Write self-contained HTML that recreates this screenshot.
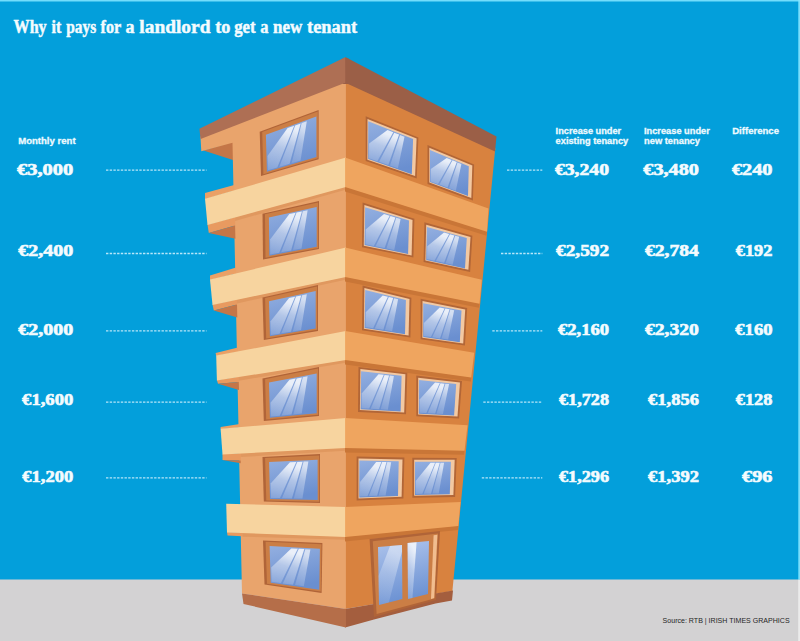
<!DOCTYPE html>
<html lang="en"><head><meta charset="utf-8"><title>Why it pays for a landlord to get a new tenant</title>
<style>
html,body{margin:0;padding:0;background:#039fdb;}
body{width:800px;height:641px;overflow:hidden;}
svg{display:block;}
.ti{font:bold 18.4px "Liberation Serif",serif;fill:#f4fbfe;stroke:#f4fbfe;stroke-width:.45px;}
.nm{font:bold 16.6px "Liberation Serif",serif;fill:#f4fbfe;stroke:#f4fbfe;stroke-width:.6px;}
.hd{font:bold 9.4px "Liberation Sans",sans-serif;fill:#eefaff;stroke:#eefaff;stroke-width:.3px;}
.src{font:7.5px "Liberation Sans",sans-serif;fill:#262626;}
.dl{stroke:#b8e6f9;stroke-width:1.3;stroke-dasharray:2.4 1.3;}
</style></head><body>
<svg width="800" height="641" viewBox="0 0 800 641">
<defs>
<linearGradient id="gl" x1="0" y1="0" x2="0.25" y2="1"><stop offset="0" stop-color="#93afe0"/><stop offset="1" stop-color="#6a8fd0"/></linearGradient>
<linearGradient id="gr" x1="0" y1="0" x2="0.2" y2="1"><stop offset="0" stop-color="#93afe0"/><stop offset="1" stop-color="#6a8fd0"/></linearGradient>
<filter id="bl" x="-5%" y="-5%" width="110%" height="110%"><feGaussianBlur stdDeviation="0.6"/></filter>
<linearGradient id="gd" x1="0" y1="0" x2="0.1" y2="1"><stop offset="0" stop-color="#a9c0ea"/><stop offset="1" stop-color="#6c92d3"/></linearGradient>
<linearGradient id="st" x1="0.3" y1="0" x2="0" y2="1"><stop offset="0" stop-color="#fff" stop-opacity=".82"/><stop offset=".4" stop-color="#fff" stop-opacity=".42"/><stop offset="1" stop-color="#fff" stop-opacity=".15"/></linearGradient>
</defs>
<rect x="0" y="0" width="800" height="641" fill="#039fdb"/>
<rect x="0" y="579.5" width="800" height="61.5" fill="#d3d2d3"/>
<polygon points="344.6,80.0 495.6,148.5 495.0,151.2 452.4,591.0 344.6,609.0" fill="#d8823f"/>
<polygon points="203.5,150.4 234.5,141.2 234.5,160.6" fill="#c47648"/>
<polygon points="200.6,138.7 200.4,136.6 345.9,80.0 345.9,609.0 242.0,593.5 232.5,142.8 201.3,151.3" fill="#e9a46c"/>
<polygon points="342.6,58.5 348.6,58.5 348.6,84.0 342.6,84.0" fill="#9b5f47"/>
<polygon points="199.4,128.7 345.6,56.9 345.9,82.5 200.6,138.9" fill="#ae6f54"/>
<polygon points="345.3,56.9 496.5,136.5 495.0,151.4 345.3,82.7" fill="#9b5f47"/>
<polygon points="205.0,193.0 234.2,185.0 234.2,190.7 205.0,199.2" fill="#eba065"/>
<polygon points="207.5,224.5 208.8,233.0 235.1,225.6 235.1,216.9" fill="#e89a60"/>
<polygon points="208.8,233.0 235.1,225.6 235.4,238.8" fill="#c47648"/>
<polygon points="235.1,216.9 345.6,186.5 345.6,189.8 235.1,221.0" fill="#e0985f"/>
<polygon points="345.0,186.5 487.0,231.2 486.6,235.8 345.0,191.5" fill="#c97637"/>
<polygon points="205.0,198.8 345.9,157.6 345.9,187.0 207.5,225.0" fill="#f7d49f"/>
<polygon points="345.1,157.6 488.5,208.5 487.0,231.8 345.1,187.0" fill="#efa55f"/>
<polygon points="210.0,275.6 236.1,267.5 236.1,273.8 210.0,279.9" fill="#eba065"/>
<polygon points="212.5,304.5 213.8,310.6 237.0,304.4 237.0,299.3" fill="#e89a60"/>
<polygon points="213.8,310.6 237.0,304.4 237.3,317.5" fill="#c47648"/>
<polygon points="237.0,299.3 345.6,276.5 345.6,279.8 237.0,303.4" fill="#e0985f"/>
<polygon points="345.0,276.5 479.5,303.2 479.1,307.8 345.0,281.5" fill="#c97637"/>
<polygon points="210.0,279.4 345.9,247.6 345.9,277.0 212.5,305.0" fill="#f7d49f"/>
<polygon points="345.1,247.6 481.8,279.8 479.5,303.8 345.1,277.0" fill="#efa55f"/>
<polygon points="215.6,353.0 238.0,347.5 238.0,352.0 216.2,356.1" fill="#eba065"/>
<polygon points="216.9,380.1 218.0,383.8 238.8,381.9 238.8,376.6" fill="#e89a60"/>
<polygon points="218.0,383.8 238.8,381.9 239.0,390.0" fill="#c47648"/>
<polygon points="238.8,376.6 345.6,359.5 345.6,362.8 238.8,380.7" fill="#e0985f"/>
<polygon points="345.0,359.5 471.2,377.0 470.9,381.5 345.0,364.5" fill="#c97637"/>
<polygon points="216.2,355.6 345.9,331.0 345.9,360.0 216.9,380.6" fill="#f7d49f"/>
<polygon points="345.1,331.0 474.2,352.8 471.2,377.5 345.1,360.0" fill="#efa55f"/>
<polygon points="220.6,427.0 239.8,424.0 239.8,427.6 220.6,429.2" fill="#eba065"/>
<polygon points="222.5,453.9 222.5,460.0 240.7,460.6 240.7,453.0" fill="#e89a60"/>
<polygon points="222.5,460.0 240.7,460.6 240.7,463.3" fill="#c47648"/>
<polygon points="240.7,453.0 345.6,447.5 345.6,450.8 240.7,457.1" fill="#e0985f"/>
<polygon points="345.0,447.5 464.5,450.2 464.1,454.8 345.0,452.5" fill="#c97637"/>
<polygon points="220.6,428.8 345.9,418.0 345.9,448.0 222.5,454.4" fill="#f7d49f"/>
<polygon points="345.1,418.0 467.5,425.2 464.5,450.8 345.1,448.0" fill="#efa55f"/>
<polygon points="227.0,532.0 227.5,535.6 242.4,536.2 242.4,532.6" fill="#e89a60"/>
<polygon points="242.4,532.6 345.6,536.5 345.6,539.8 242.4,536.7" fill="#e0985f"/>
<polygon points="345.0,536.5 458.3,525.5 457.9,530.0 345.0,541.5" fill="#c97637"/>
<polygon points="226.2,503.8 345.9,507.0 345.9,537.0 227.0,532.5" fill="#f7d49f"/>
<polygon points="345.1,507.0 460.5,502.0 458.3,526.0 345.1,537.0" fill="#efa55f"/>
<polygon points="345.1,609.0 453.0,590.5 452.0,600.5 435.5,603.6 374.0,619.4 345.1,627.5" fill="#a45e3e"/>
<polygon points="242.0,593.5 345.9,609.0 345.9,627.5 243.5,604.0" fill="#b56e49"/>
<polygon points="259.7,131.8 318.6,110.0 318.6,159.3 261.0,176.1" fill="#b06438"/>
<polygon points="262.2,132.1 317.8,111.6 317.8,158.2 263.4,174.2" fill="#cb7e45"/>
<polygon points="265.9,134.8 316.4,116.6 316.4,157.1 266.9,171.7" fill="url(#gl)"/><g filter="url(#bl)"><polygon points="287.6,128.1 294.2,125.8 277.3,167.5 267.9,170.3 267.5,155.9" fill="url(#st)"/><polygon points="295.2,125.4 300.7,123.4 289.6,163.8 279.2,166.9" fill="url(#st)"/><polygon points="301.7,123.1 306.8,121.2 300.5,160.6 291.6,163.2" fill="url(#st)" opacity=".8"/></g>
<polygon points="262.5,213.7 319.0,201.0 319.0,249.0 263.0,259.5" fill="#b06438"/>
<polygon points="265.0,214.3 318.1,202.5 318.1,247.9 265.5,257.8" fill="#cb7e45"/>
<polygon points="268.9,217.5 316.7,207.0 316.7,246.7 269.3,255.7" fill="url(#gl)"/><g filter="url(#bl)"><polygon points="289.4,214.1 295.6,212.8 279.2,252.7 270.2,254.4 270.1,239.5" fill="url(#st)"/><polygon points="296.6,212.6 301.9,211.4 291.1,250.4 281.1,252.3" fill="url(#st)"/><polygon points="302.8,211.2 307.6,210.2 301.5,248.4 293.0,250.0" fill="url(#st)" opacity=".8"/></g>
<polygon points="262.5,297.5 318.0,285.0 318.0,331.0 263.8,340.0" fill="#b06438"/>
<polygon points="265.1,298.1 317.1,286.5 317.1,329.8 266.2,338.4" fill="#cb7e45"/>
<polygon points="269.0,301.3 315.7,291.1 315.7,328.6 269.9,336.3" fill="url(#gl)"/><g filter="url(#bl)"><polygon points="289.1,298.0 295.1,296.7 279.5,333.7 270.8,335.1 270.4,321.5" fill="url(#st)"/><polygon points="296.1,296.5 301.2,295.4 290.9,331.7 281.3,333.3" fill="url(#st)"/><polygon points="302.1,295.2 306.8,294.2 301.0,330.0 292.8,331.4" fill="url(#st)" opacity=".8"/></g>
<polygon points="262.5,378.5 319.0,367.0 319.0,416.0 263.8,421.0" fill="#b06438"/>
<polygon points="265.1,379.2 318.1,368.6 318.1,414.7 266.2,419.6" fill="#cb7e45"/>
<polygon points="269.0,382.5 316.7,373.4 316.7,413.2 269.9,417.8" fill="url(#gl)"/><g filter="url(#bl)"><polygon points="289.5,379.7 295.7,378.6 279.7,415.7 270.8,416.6 270.5,402.8" fill="url(#st)"/><polygon points="296.7,378.4 301.9,377.4 291.4,414.6 281.6,415.6" fill="url(#st)"/><polygon points="302.8,377.2 307.6,376.3 301.7,413.5 293.3,414.4" fill="url(#st)" opacity=".8"/></g>
<polygon points="262.5,457.0 320.0,454.0 320.0,503.0 263.8,501.5" fill="#b06438"/>
<polygon points="265.1,458.1 319.1,455.4 319.1,501.7 266.3,500.4" fill="#cb7e45"/>
<polygon points="269.1,461.9 317.6,459.8 317.7,500.1 270.0,499.0" fill="url(#gl)"/><g filter="url(#bl)"><polygon points="290.0,462.2 296.3,461.9 280.0,498.1 271.0,497.9 270.6,483.4" fill="url(#st)"/><polygon points="297.3,461.9 302.6,461.7 291.9,498.4 281.9,498.2" fill="url(#st)"/><polygon points="303.6,461.6 308.4,461.4 302.4,498.6 293.8,498.4" fill="url(#st)" opacity=".8"/></g>
<polygon points="263.0,540.5 322.4,543.0 321.6,593.0 264.5,584.5" fill="#b06438"/>
<polygon points="265.6,541.8 321.5,544.3 320.8,591.5 267.0,583.7" fill="#cb7e45"/>
<polygon points="269.6,546.0 319.9,548.8 319.3,589.7 270.7,582.8" fill="url(#gl)"/><g filter="url(#bl)"><polygon points="291.3,548.4 297.8,548.7 280.9,583.1 271.6,581.8 271.2,567.5" fill="url(#st)"/><polygon points="298.8,548.8 304.3,549.1 293.0,584.8 282.8,583.4" fill="url(#st)"/><polygon points="305.3,549.2 310.4,549.5 303.8,586.3 295.0,585.1" fill="url(#st)" opacity=".8"/></g>
<polygon points="365.7,116.3 418.4,137.5 416.7,178.4 365.7,161.0" fill="#b26637"/>
<polygon points="367.5,118.9 416.6,138.5 415.1,176.1 367.4,159.7" fill="#f3c9a2"/>
<polygon points="368.2,121.2 413.1,139.1 411.8,174.2 368.2,159.1" fill="url(#gr)"/><g filter="url(#bl)"><polygon points="387.5,130.0 393.3,132.3 377.3,161.2 369.0,158.3 369.1,143.5" fill="url(#st)"/><polygon points="394.2,132.7 399.1,134.6 388.3,164.9 379.1,161.8" fill="url(#st)"/><polygon points="400.0,135.0 404.5,136.8 397.9,168.3 390.0,165.6" fill="url(#st)" opacity=".8"/></g>
<polygon points="427.5,145.0 474.1,164.6 472.9,200.5 427.5,183.9" fill="#b26637"/>
<polygon points="429.3,147.7 472.3,165.6 471.3,198.1 429.3,182.6" fill="#f3c9a2"/>
<polygon points="430.0,150.1 468.8,166.2 468.0,196.1 430.0,182.1" fill="url(#gr)"/><g filter="url(#bl)"><polygon points="446.7,157.9 451.7,160.0 438.0,184.1 430.7,181.4 430.8,168.9" fill="url(#st)"/><polygon points="452.5,160.3 456.8,162.1 447.5,187.6 439.5,184.6" fill="url(#st)"/><polygon points="457.5,162.4 461.4,164.0 455.8,190.7 449.0,188.2" fill="url(#st)" opacity=".8"/></g>
<polygon points="362.6,202.5 414.4,218.8 413.4,257.4 362.0,247.3" fill="#b26637"/>
<polygon points="364.4,204.9 412.5,219.9 411.6,255.4 363.8,245.8" fill="#f3c9a2"/>
<polygon points="365.1,207.3 409.0,220.6 408.1,254.0 364.6,245.1" fill="url(#gr)"/><g filter="url(#bl)"><polygon points="384.0,214.1 389.7,215.8 373.8,245.9 365.5,244.2 365.7,229.5" fill="url(#st)"/><polygon points="390.5,216.1 395.4,217.5 384.6,248.1 375.5,246.3" fill="url(#st)"/><polygon points="396.2,217.8 400.6,219.1 394.2,250.1 386.4,248.5" fill="url(#st)" opacity=".8"/></g>
<polygon points="424.4,222.2 472.4,235.7 470.1,271.9 423.6,262.1" fill="#b26637"/>
<polygon points="426.2,224.7 470.5,237.0 468.4,269.8 425.4,260.6" fill="#f3c9a2"/>
<polygon points="426.9,227.0 466.8,237.9 465.0,268.4 426.2,259.9" fill="url(#gr)"/><g filter="url(#bl)"><polygon points="444.0,232.6 449.2,234.0 434.4,260.7 427.0,259.1 427.3,246.3" fill="url(#st)"/><polygon points="450.0,234.3 454.4,235.4 444.1,262.8 435.9,261.1" fill="url(#st)"/><polygon points="455.2,235.7 459.2,236.8 452.6,264.7 445.6,263.2" fill="url(#st)" opacity=".8"/></g>
<polygon points="362.6,285.5 411.4,297.7 410.4,337.4 362.0,330.3" fill="#b26637"/>
<polygon points="364.4,287.9 409.5,299.0 408.6,335.5 363.9,328.7" fill="#f3c9a2"/>
<polygon points="365.2,290.1 405.9,300.0 405.0,334.2 364.6,328.0" fill="url(#gr)"/><g filter="url(#bl)"><polygon points="382.7,295.5 387.9,296.7 373.1,328.2 365.5,327.0 365.7,312.3" fill="url(#st)"/><polygon points="388.8,296.9 393.2,298.0 383.3,329.8 374.8,328.5" fill="url(#st)"/><polygon points="394.1,298.2 398.1,299.2 392.1,331.2 384.9,330.0" fill="url(#st)" opacity=".8"/></g>
<polygon points="420.6,298.8 467.2,308.0 464.9,345.4 420.6,339.3" fill="#b26637"/>
<polygon points="422.5,301.0 465.2,309.4 463.2,343.4 422.4,337.7" fill="#f3c9a2"/>
<polygon points="423.2,303.3 461.5,310.6 459.8,342.2 423.2,337.0" fill="url(#gr)"/><g filter="url(#bl)"><polygon points="439.7,307.4 444.6,308.4 430.9,337.1 423.9,336.1 423.9,323.0" fill="url(#st)"/><polygon points="445.4,308.5 449.6,309.3 440.0,338.4 432.3,337.3" fill="url(#st)"/><polygon points="450.3,309.4 454.2,310.2 448.1,339.6 441.5,338.6" fill="url(#st)" opacity=".8"/></g>
<polygon points="358.5,366.9 407.3,372.7 406.0,414.3 358.0,411.9" fill="#b26637"/>
<polygon points="360.4,369.0 405.4,374.2 404.2,412.4 359.9,410.1" fill="#f3c9a2"/>
<polygon points="361.1,371.2 401.6,375.7 400.6,411.5 360.7,409.3" fill="url(#gr)"/><g filter="url(#bl)"><polygon points="378.5,374.2 383.8,374.8 369.1,408.6 361.5,408.2 361.7,393.4" fill="url(#st)"/><polygon points="384.6,374.9 389.1,375.4 379.1,409.2 370.7,408.7" fill="url(#st)"/><polygon points="389.9,375.5 393.9,376.0 387.8,409.7 380.7,409.3" fill="url(#st)" opacity=".8"/></g>
<polygon points="416.3,375.6 462.0,380.9 459.1,418.4 416.3,416.3" fill="#b26637"/>
<polygon points="418.2,377.7 460.0,382.4 457.5,416.5 418.1,414.5" fill="#f3c9a2"/>
<polygon points="419.0,379.9 456.2,384.0 454.1,415.6 418.9,413.7" fill="url(#gr)"/><g filter="url(#bl)"><polygon points="435.0,382.6 439.8,383.1 426.3,413.1 419.6,412.7 419.6,399.5" fill="url(#st)"/><polygon points="440.5,383.2 444.6,383.7 435.1,413.6 427.7,413.2" fill="url(#st)"/><polygon points="445.4,383.7 449.1,384.1 442.9,414.0 436.5,413.7" fill="url(#st)" opacity=".8"/></g>
<polygon points="356.6,456.6 404.4,457.6 403.4,498.4 356.6,500.4" fill="#b26637"/>
<polygon points="358.5,458.5 402.5,459.4 401.6,496.7 358.5,498.4" fill="#f3c9a2"/>
<polygon points="359.3,460.6 398.7,461.3 398.0,496.1 359.3,497.6" fill="url(#gr)"/><g filter="url(#bl)"><polygon points="376.2,462.0 381.4,462.1 367.4,496.2 360.0,496.5 360.1,482.1" fill="url(#st)"/><polygon points="382.2,462.1 386.5,462.1 377.1,495.8 368.9,496.1" fill="url(#st)"/><polygon points="387.3,462.1 391.2,462.2 385.6,495.5 378.6,495.8" fill="url(#st)" opacity=".8"/></g>
<polygon points="412.3,457.8 456.7,457.9 455.1,496.9 412.4,497.7" fill="#b26637"/>
<polygon points="414.2,459.7 454.7,459.7 453.4,495.1 414.2,495.7" fill="#f3c9a2"/>
<polygon points="415.0,461.8 450.9,461.8 449.8,494.3 415.0,494.9" fill="url(#gr)"/><g filter="url(#bl)"><polygon points="430.5,462.8 435.1,462.8 422.3,493.8 415.7,493.9 415.7,481.0" fill="url(#st)"/><polygon points="435.8,462.8 439.8,462.8 431.0,493.7 423.7,493.8" fill="url(#st)"/><polygon points="440.5,462.8 444.1,462.8 438.7,493.5 432.4,493.6" fill="url(#st)" opacity=".8"/></g>
<polygon points="369.6,539.0 440.0,531.0 436.0,600.0 374.0,617.0" fill="#b06438"/>
<polygon points="372.8,541.3 438.0,533.6 434.4,598.5 376.6,614.1" fill="#cb7e45"/>
<polygon points="433.6,535.2 437.4,534.8 434.2,598.0 431.0,599.0" fill="#f1bd8f"/>
<polygon points="378.0,547.0 402.0,545.0 402.4,599.0 379.0,605.0" fill="url(#gd)"/>
<polygon points="407.6,543.0 429.0,541.0 428.0,594.0 408.0,599.0" fill="url(#gd)"/>
<polygon points="390.0,546.0 402.0,545.0 402.0,551.5 388.8,602.5 379.0,605.0 378.5,576.0" fill="url(#st)" opacity=".55"/>
<polygon points="407.6,543.0 416.6,542.2 412.4,597.9 408.0,599.0" fill="url(#st)" opacity=".95"/>
<line x1="106" y1="170.2" x2="206.5" y2="170.2" class="dl"/>
<line x1="507" y1="170.2" x2="542.3" y2="170.2" class="dl"/>
<line x1="106" y1="253.5" x2="206.5" y2="253.5" class="dl"/>
<line x1="501" y1="253.5" x2="542.3" y2="253.5" class="dl"/>
<line x1="106" y1="330.8" x2="206.5" y2="330.8" class="dl"/>
<line x1="492.3" y1="330.8" x2="542.3" y2="330.8" class="dl"/>
<line x1="106" y1="402.2" x2="206.5" y2="402.2" class="dl"/>
<line x1="483.3" y1="402.2" x2="542.3" y2="402.2" class="dl"/>
<line x1="106" y1="477.8" x2="206.5" y2="477.8" class="dl"/>
<line x1="481.8" y1="477.8" x2="542.3" y2="477.8" class="dl"/>
<text y="33.2" class="ti"><tspan x="13.5" textLength="33.2" lengthAdjust="spacingAndGlyphs">Why</tspan> <tspan x="51.6" textLength="9.8" lengthAdjust="spacingAndGlyphs">it</tspan> <tspan x="66.2" textLength="30" lengthAdjust="spacingAndGlyphs">pays</tspan> <tspan x="100.6" textLength="20.4" lengthAdjust="spacingAndGlyphs">for</tspan> <tspan x="125.4" textLength="9" lengthAdjust="spacingAndGlyphs">a</tspan> <tspan x="139.3" textLength="71.2" lengthAdjust="spacingAndGlyphs">landlord</tspan> <tspan x="215.2" textLength="15.2" lengthAdjust="spacingAndGlyphs">to</tspan> <tspan x="234.2" textLength="21.4" lengthAdjust="spacingAndGlyphs">get</tspan> <tspan x="260.3" textLength="8.2" lengthAdjust="spacingAndGlyphs">a</tspan> <tspan x="273.1" textLength="29.3" lengthAdjust="spacingAndGlyphs">new</tspan> <tspan x="307.1" textLength="50" lengthAdjust="spacingAndGlyphs">tenant</tspan></text>
<text x="18.2" y="143.5" class="hd" textLength="57.4" lengthAdjust="spacingAndGlyphs">Monthly rent</text>
<text x="555.6" y="133.9" class="hd" textLength="65.6" lengthAdjust="spacingAndGlyphs">Increase under</text>
<text x="555.6" y="144.2" class="hd" textLength="72.6" lengthAdjust="spacingAndGlyphs">existing tenancy</text>
<text x="644" y="133.9" class="hd" textLength="65.8" lengthAdjust="spacingAndGlyphs">Increase under</text>
<text x="644" y="144.2" class="hd" textLength="56" lengthAdjust="spacingAndGlyphs">new tenancy</text>
<text x="732.2" y="133.9" class="hd" textLength="46.8" lengthAdjust="spacingAndGlyphs">Difference</text>
<text x="16.9" y="175.2" class="nm" textLength="56.4" lengthAdjust="spacingAndGlyphs">€3,000</text>
<text x="554.9" y="175.2" class="nm" textLength="54.2" lengthAdjust="spacingAndGlyphs">€3,240</text>
<text x="643.3" y="175.2" class="nm" textLength="55.6" lengthAdjust="spacingAndGlyphs">€3,480</text>
<text x="731.9" y="175.2" class="nm" textLength="40.6" lengthAdjust="spacingAndGlyphs">€240</text>
<text x="18.3" y="255.6" class="nm" textLength="55.0" lengthAdjust="spacingAndGlyphs">€2,400</text>
<text x="556.1" y="255.6" class="nm" textLength="53.0" lengthAdjust="spacingAndGlyphs">€2,592</text>
<text x="644.9" y="255.6" class="nm" textLength="54.0" lengthAdjust="spacingAndGlyphs">€2,784</text>
<text x="735.7" y="255.6" class="nm" textLength="36.8" lengthAdjust="spacingAndGlyphs">€192</text>
<text x="18.3" y="334.6" class="nm" textLength="55.0" lengthAdjust="spacingAndGlyphs">€2,000</text>
<text x="557.9" y="334.6" class="nm" textLength="51.2" lengthAdjust="spacingAndGlyphs">€2,160</text>
<text x="644.9" y="334.6" class="nm" textLength="54.0" lengthAdjust="spacingAndGlyphs">€2,320</text>
<text x="735.3" y="334.6" class="nm" textLength="37.2" lengthAdjust="spacingAndGlyphs">€160</text>
<text x="22.1" y="405.4" class="nm" textLength="51.2" lengthAdjust="spacingAndGlyphs">€1,600</text>
<text x="558.9" y="405.4" class="nm" textLength="50.2" lengthAdjust="spacingAndGlyphs">€1,728</text>
<text x="648.1" y="405.4" class="nm" textLength="50.8" lengthAdjust="spacingAndGlyphs">€1,856</text>
<text x="735.7" y="405.4" class="nm" textLength="36.8" lengthAdjust="spacingAndGlyphs">€128</text>
<text x="22.3" y="481.5" class="nm" textLength="51.0" lengthAdjust="spacingAndGlyphs">€1,200</text>
<text x="558.9" y="481.5" class="nm" textLength="50.2" lengthAdjust="spacingAndGlyphs">€1,296</text>
<text x="648.1" y="481.5" class="nm" textLength="50.8" lengthAdjust="spacingAndGlyphs">€1,392</text>
<text x="742.1" y="481.5" class="nm" textLength="30.4" lengthAdjust="spacingAndGlyphs">€96</text>
<text x="662.6" y="622.5" class="src" textLength="127" lengthAdjust="spacingAndGlyphs">Source: RTB | IRISH TIMES GRAPHICS</text>
<rect x="0" y="0" width="800" height="1.5" fill="#7fe3ff" opacity=".9"/>
<rect x="798.3" y="0" width="1.7" height="579.5" fill="#86e6ff" opacity=".9"/>
<rect x="798.2" y="579.5" width="1.8" height="61.5" fill="#fff" opacity=".55"/>
</svg>
</body></html>
